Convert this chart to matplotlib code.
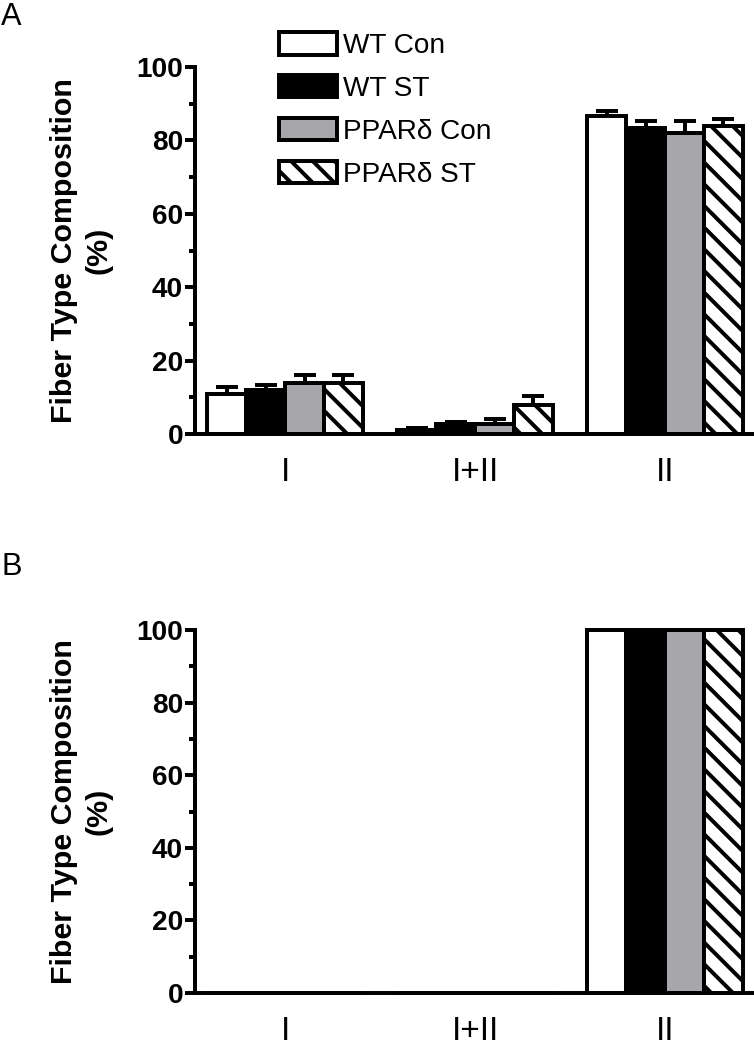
import matplotlib.pyplot as plt
import numpy as np

plt.rcParams['font.family'] = ['Liberation Sans', 'DejaVu Sans']
plt.rcParams['hatch.linewidth'] = 2.2

DPI = 130

groups = ['I', 'I+II', 'II']
series = ['WT Con', 'WT ST', 'PPARδ Con', 'PPARδ ST']

# panel A: mean and upper error per series, in group order I, I+II, II
wt_con_a = [10.9, 1.2, 86.7]
wt_st_a = [12.0, 2.7, 83.5]
ppar_con_a = [13.9, 2.8, 82.1]
ppar_st_a = [13.9, 7.9, 84.0]

wt_con_a_err = [1.9, 0.4, 1.4]
wt_st_a_err = [1.4, 0.5, 1.9]
ppar_con_a_err = [2.2, 1.3, 3.3]
ppar_st_a_err = [2.2, 2.5, 1.9]

# panel B: all fibers type II
wt_con_b = [0, 0, 100]
wt_st_b = [0, 0, 100]
ppar_con_b = [0, 0, 100]
ppar_st_b = [0, 0, 100]

fills = ['white', 'black', '#a6a6ab', 'white']
hatches = [None, None, None, '\\\\']


def draw_panel(ax, vals, errs=None):
    x = np.arange(len(groups))
    w = 0.205
    bars = []
    for i in range(4):
        pos = x + (i - 1.5) * w
        b = ax.bar(pos, vals[i], w, color=fills[i], edgecolor='black',
                   linewidth=2.2, hatch=hatches[i], label=series[i],
                   zorder=2, clip_on=False)
        bars.append(b)
        if errs is not None:
            ax.errorbar(pos, vals[i], yerr=[np.zeros(3), errs[i]], fmt='none',
                        ecolor='black', elinewidth=2.2, capsize=6, capthick=2.2,
                        zorder=1)
    ax.set_xlim(-0.474, 2.463)
    ax.set_ylim(0, 100)
    ax.set_yticks([0, 20, 40, 60, 80, 100])
    ax.set_yticks([10, 30, 50, 70, 90], minor=True)
    ax.set_xticks(x)
    ax.set_xticklabels(groups, fontsize=18.5)
    ax.spines['top'].set_visible(False)
    ax.spines['right'].set_visible(False)
    ax.spines['left'].set_linewidth(2.2)
    ax.spines['bottom'].set_linewidth(2.2)
    ax.tick_params(axis='y', which='major', length=5.5, width=2.2, pad=1.1,
                   labelsize=15.5)
    ax.tick_params(axis='y', which='minor', length=3.5, width=2.2)
    ax.tick_params(axis='x', length=0, pad=13)
    for t in ax.get_yticklabels():
        t.set_fontweight('bold')
    ax.set_ylabel('Fiber Type Composition\n(%)', fontsize=16.8, fontweight='bold',
                  linespacing=1.3)
    ax.yaxis.set_label_coords(-0.147, 0.5)
    return bars


fig = plt.figure(figsize=(754 / DPI, 1050 / DPI), dpi=DPI)
ax1 = fig.add_axes([195 / 754, 1 - 434 / 1050, 558 / 754, 367 / 1050])
ax2 = fig.add_axes([195 / 754, 1 - 993 / 1050, 558 / 754, 363 / 1050])

bars = draw_panel(ax1, [wt_con_a, wt_st_a, ppar_con_a, ppar_st_a],
                  [wt_con_a_err, wt_st_a_err, ppar_con_a_err, ppar_st_a_err])
draw_panel(ax2, [wt_con_b, wt_st_b, ppar_con_b, ppar_st_b])

fig.legend(handles=bars, labels=series, loc='upper left',
           bbox_to_anchor=(279 / 754, 1 - 32 / 1050), frameon=False,
           fontsize=15.5, handlelength=2.07, handleheight=0.86,
           handletextpad=0.2, labelspacing=0.57, borderpad=0, borderaxespad=0)

fig.text(1 / 754, 1 - 17 / 1050, 'A', fontsize=17, va='center', ha='left')
fig.text(1 / 754, 1 - 567 / 1050, 'B', fontsize=17, va='center', ha='left')

fig.savefig('out.png', dpi=DPI)
